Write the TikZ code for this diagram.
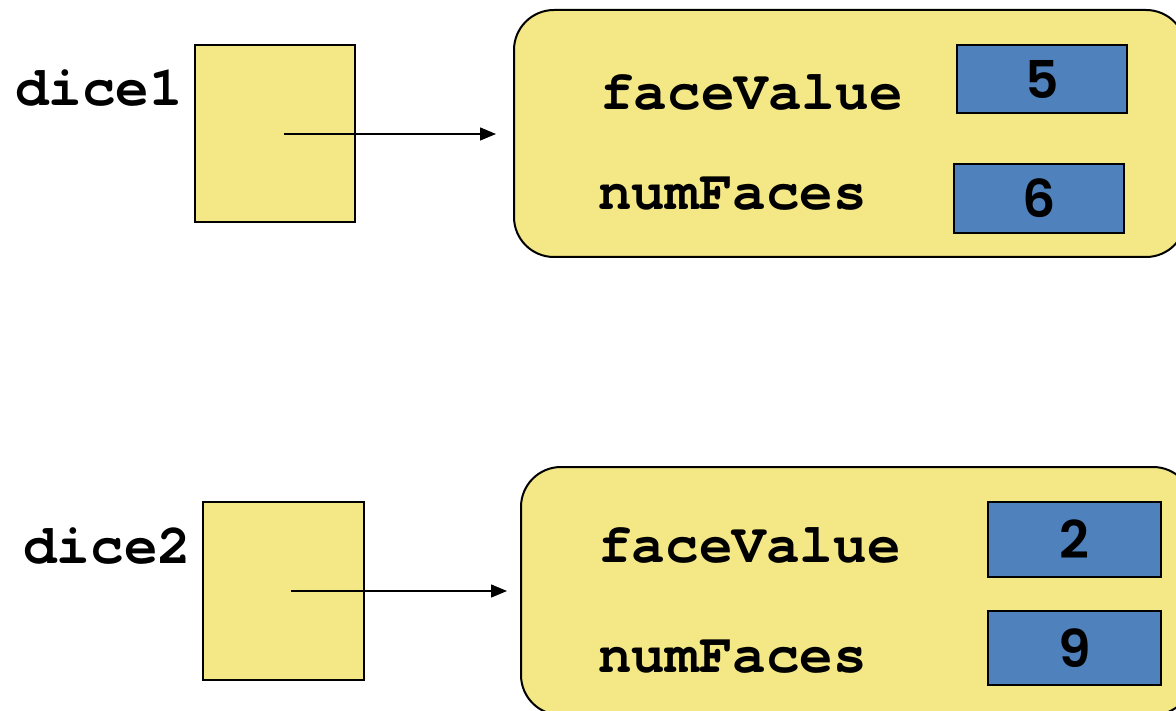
\documentclass[tikz,border=0pt]{standalone}
\usepackage{fontspec}
\usetikzlibrary{arrows.meta}
\newfontfamily\codefont{texgyrecursor}[Extension=.otf, UprightFont=*-regular, BoldFont=*-bold]
\newfontfamily\valfont{Poppins}[BoldFont={Poppins SemiBold}]
\definecolor{slotyellow}{HTML}{F4E785}
\definecolor{valblue}{HTML}{4F81BD}
\tikzset{
  refbox/.style={draw=black, line width=1.5pt, fill=slotyellow, inner sep=0pt},
  objbox/.style={draw=black, line width=2pt, fill=slotyellow, rounded corners=40pt, inner sep=0pt},
  valbox/.style={draw=black, line width=1.8pt, fill=valblue, inner sep=0pt,
    font=\valfont\bfseries\fontsize{52}{52}\selectfont},
  codelabel/.style={anchor=west, inner sep=0pt,
    font=\codefont\bfseries\fontsize{56}{56}\selectfont},
  pointer/.style={line width=1.5pt, -{Triangle[length=16pt,width=13pt]}}
}
\begin{document}
\begin{tikzpicture}[x=1pt,y=-1pt]
\useasboundingbox (0,0) rectangle (1176,711);

% first object: dice1
\node[refbox, minimum width=160pt, minimum height=177pt] (ref1) at (275,133.5) {};
\node[codelabel] (name1) at (15,88) {dice1};
\node[objbox, minimum width=672pt, minimum height=247pt] (obj1) at (850,133.5) {};
\node[codelabel] (fv1) at (600,92) {faceValue};
\node[codelabel] (nf1) at (598,194) {numFaces};
\node[valbox, minimum width=170pt, minimum height=68pt] (v1a) at (1042,79) {5};
\node[valbox, minimum width=170pt, minimum height=69pt] (v1b) at (1039,198.5) {6};
\coordinate (p1) at (284,134);
\coordinate (t1) at (496,134);
\draw[pointer] (p1) -- (t1);

% second object: dice2
\node[refbox, minimum width=161pt, minimum height=178pt] (ref2) at (283.5,591) {};
\node[codelabel] (name2) at (23,546) {dice2};
\node[objbox, minimum width=672pt, minimum height=248pt] (obj2) at (857,591) {};
\node[codelabel] (fv2) at (598,545) {faceValue};
\node[codelabel] (nf2) at (598,657) {numFaces};
\node[valbox, minimum width=173pt, minimum height=75pt] (v2a) at (1074.5,539.5) {2};
\node[valbox, minimum width=173pt, minimum height=74pt] (v2b) at (1074.5,648) {9};
\coordinate (p2) at (291,591);
\coordinate (t2) at (507,591);
\draw[pointer] (p2) -- (t2);
\end{tikzpicture}
\end{document}
